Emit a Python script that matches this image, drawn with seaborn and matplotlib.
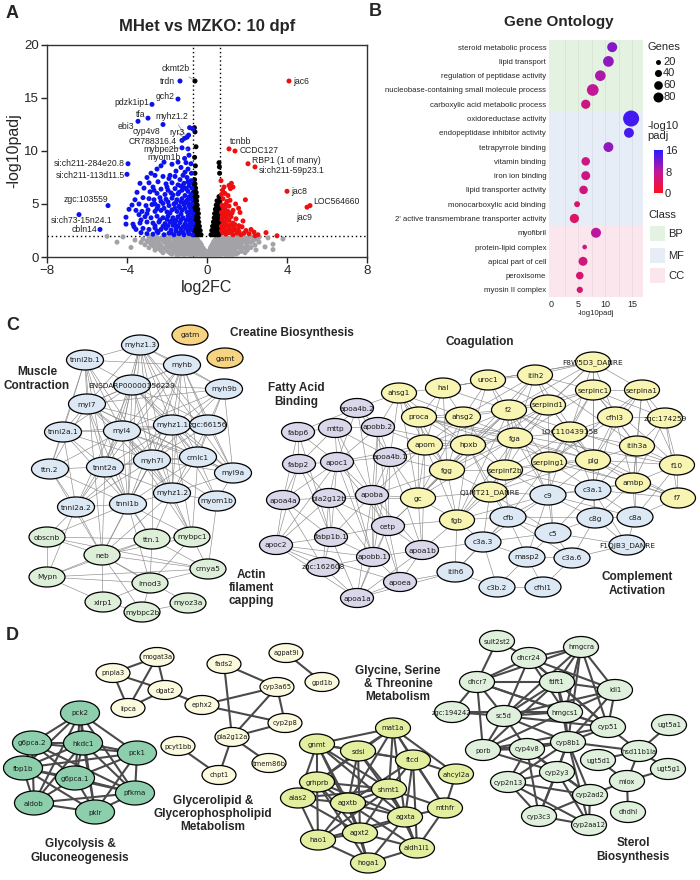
import numpy as np
import pandas as pd
import matplotlib
matplotlib.use("Agg")
import matplotlib.pyplot as plt
from matplotlib.patches import Ellipse, Rectangle
from matplotlib.collections import LineCollection
from matplotlib.colors import LinearSegmentedColormap, Normalize
from matplotlib.cm import ScalarMappable
import seaborn as sns

sns.set_theme(style="white")
plt.rcParams['font.family'] = ['Liberation Sans', 'DejaVu Sans']

# ---------------- A: volcano data (log2FC, -log10padj) ----------------
grey_pts = [
    (-5.0, 1.95), (-4.2, 1.9), (-2.9, 1.9), (-2.5, 1.85), (-2.1, 1.92), (-1.75, 1.88), (-1.45, 1.93), (-1.15, 1.86),
    (-0.9, 1.9), (-0.7, 1.94), (-0.52, 1.87), (0.48, 1.9), (0.72, 1.86), (0.95, 1.93), (1.25, 1.88), (1.55, 1.92),
    (1.85, 1.86), (2.2, 1.9), (2.6, 1.85), (3.05, 1.8),
    (-2.7, 1.78), (-2.3, 1.75), (-1.9, 1.8), (-1.6, 1.76), (-1.3, 1.79), (-1.0, 1.75), (-0.75, 1.8), (0.55, 1.77),
    (0.85, 1.79), (1.1, 1.76), (1.4, 1.8), (1.7, 1.75), (2.0, 1.78),
    (-3.6, 1.6), (-3.2, 1.68), (-2.75, 1.62), (-2.35, 1.66), (-2.0, 1.6), (-1.65, 1.67), (-1.35, 1.6), (-1.05, 1.65),
    (-0.8, 1.6), (-0.6, 1.68), (-0.45, 1.6), (0.4, 1.62), (0.6, 1.68), (0.83, 1.6), (1.1, 1.66), (1.4, 1.6),
    (1.7, 1.65), (2.05, 1.62), (2.45, 1.68), (3.8, 1.7),
    (-3.0, 1.52), (-2.6, 1.5), (-2.2, 1.54), (-1.9, 1.5), (-1.5, 1.52), (-1.2, 1.5), (-0.9, 1.53), (-0.6, 1.5),
    (0.45, 1.52), (0.7, 1.5), (0.95, 1.53), (1.25, 1.5), (1.55, 1.52), (1.9, 1.5), (2.3, 1.54),
    (-4.5, 1.4), (-3.3, 1.38), (-2.9, 1.42), (-2.5, 1.36), (-2.15, 1.43), (-1.85, 1.37), (-1.55, 1.42), (-1.25, 1.36),
    (-0.95, 1.42), (-0.7, 1.37), (-0.48, 1.43), (-0.35, 1.36), (0.32, 1.4), (0.5, 1.36), (0.72, 1.43), (0.97, 1.37),
    (1.25, 1.42), (1.55, 1.36), (1.85, 1.42), (2.2, 1.38), (2.6, 1.4),
    (-2.8, 1.27), (-2.45, 1.3), (-2.05, 1.26), (-1.75, 1.3), (-1.45, 1.26), (-1.15, 1.3), (-0.9, 1.27), (-0.6, 1.3),
    (0.42, 1.28), (0.62, 1.26), (0.88, 1.3), (1.15, 1.27), (1.4, 1.3), (1.7, 1.26), (2.0, 1.28),
    (-3.1, 1.15), (-2.7, 1.1), (-2.35, 1.17), (-2.0, 1.12), (-1.7, 1.18), (-1.4, 1.1), (-1.1, 1.16), (-0.85, 1.1),
    (-0.6, 1.17), (-0.42, 1.12), (-0.28, 1.15), (0.25, 1.13), (0.4, 1.18), (0.6, 1.1), (0.85, 1.16), (1.1, 1.12),
    (1.4, 1.18), (1.7, 1.1), (2.0, 1.15), (2.4, 1.12), (2.9, 0.95), (3.3, 1.2),
    (-2.65, 1.0), (-2.3, 1.02), (-1.95, 0.98), (-1.65, 1.02), (-1.35, 0.98), (-1.05, 1.02), (-0.8, 0.98),
    (-0.55, 1.0), (0.35, 1.0), (0.58, 1.02), (0.8, 0.98), (1.05, 1.02), (1.35, 0.98), (1.65, 1.02), (2.0, 1.0),
    (-3.8, 0.9), (-2.9, 0.88), (-2.5, 0.92), (-2.2, 0.86), (-1.85, 0.93), (-1.55, 0.87), (-1.25, 0.92), (-0.98, 0.86),
    (-0.72, 0.93), (-0.5, 0.87), (-0.32, 0.92), (-0.2, 0.86), (0.18, 0.9), (0.32, 0.86), (0.5, 0.93), (0.72, 0.87),
    (0.97, 0.92), (1.25, 0.86), (1.55, 0.92), (1.85, 0.88), (2.2, 0.9), (3.3, 0.7),
    (-2.4, 0.78), (-2.05, 0.76), (-1.75, 0.8), (-1.45, 0.76), (-1.15, 0.8), (-0.88, 0.77), (-0.62, 0.8),
    (-0.4, 0.76), (0.25, 0.78), (0.42, 0.8), (0.62, 0.76), (0.87, 0.8), (1.12, 0.76), (1.4, 0.8), (1.7, 0.77),
    (2.05, 0.79),
    (-2.6, 0.65), (-2.3, 0.6), (-2.0, 0.67), (-1.7, 0.62), (-1.4, 0.66), (-1.1, 0.6), (-0.85, 0.67), (-0.6, 0.61),
    (-0.38, 0.66), (-0.22, 0.6), (-0.12, 0.64), (0.12, 0.62), (0.24, 0.66), (0.4, 0.6), (0.62, 0.66), (0.85, 0.61),
    (1.1, 0.67), (1.4, 0.6), (1.7, 0.65), (2.0, 0.62), (2.45, 0.66),
    (-1.95, 0.52), (-1.6, 0.54), (-1.3, 0.5), (-1.0, 0.53), (-0.75, 0.5), (-0.5, 0.54), (-0.28, 0.5), (0.2, 0.52),
    (0.38, 0.5), (0.6, 0.54), (0.85, 0.5), (1.1, 0.53), (1.4, 0.5), (1.7, 0.53),
    (-2.2, 0.4), (-1.85, 0.37), (-1.55, 0.42), (-1.25, 0.36), (-0.98, 0.41), (-0.72, 0.37), (-0.5, 0.42), (-0.3, 0.37),
    (-0.12, 0.4), (0.1, 0.38), (0.28, 0.42), (0.48, 0.36), (0.72, 0.41), (0.98, 0.37), (1.25, 0.42), (1.55, 0.38),
    (1.9, 0.4),
    (-1.75, 0.27), (-1.35, 0.25), (-1.05, 0.28), (-0.75, 0.25), (-0.45, 0.28), (-0.2, 0.24), (0.15, 0.26),
    (0.32, 0.28), (0.55, 0.25), (0.8, 0.28), (1.1, 0.25), (1.45, 0.27),
    (-1.5, 0.15), (-1.15, 0.18), (-0.85, 0.12), (-0.55, 0.17), (-0.3, 0.12), (-0.1, 0.08), (0.05, 0.05), (0.2, 0.1),
    (0.4, 0.16), (0.65, 0.12), (0.95, 0.18), (1.25, 0.14),
]

black_pts = [
    (-0.68, 2.1), (-0.6, 2.1), (-0.52, 2.1), (-0.44, 2.1), (-0.36, 2.1), (-0.3, 2.1),
    (-0.66, 2.5), (-0.58, 2.5), (-0.5, 2.5), (-0.42, 2.5), (-0.34, 2.5),
    (-0.69, 2.9), (-0.61, 2.9), (-0.53, 2.9), (-0.45, 2.9), (-0.38, 2.9),
    (-0.65, 3.3), (-0.57, 3.3), (-0.49, 3.3), (-0.41, 3.3),
    (-0.68, 3.7), (-0.6, 3.7), (-0.52, 3.7), (-0.44, 3.7),
    (-0.66, 4.1), (-0.58, 4.1), (-0.5, 4.1), (-0.43, 4.1),
    (-0.69, 4.5), (-0.61, 4.5), (-0.53, 4.5), (-0.46, 4.5),
    (-0.65, 4.9), (-0.57, 4.9), (-0.49, 4.9),
    (-0.68, 5.3), (-0.6, 5.3), (-0.52, 5.3),
    (-0.66, 5.7), (-0.58, 5.7), (-0.5, 5.7),
    (-0.68, 6.1), (-0.6, 6.1), (-0.54, 6.1),
    (-0.65, 6.5), (-0.57, 6.5), (-0.67, 6.9), (-0.6, 6.9), (-0.62, 7.3),
    (-0.6, 7.9), (-0.58, 8.6), (-0.62, 9.4), (-0.55, 10.4), (-0.6, 11.8), (-0.63, 12.2),
    (0.2, 2.1), (0.28, 2.1), (0.36, 2.1), (0.44, 2.1), (0.52, 2.1), (0.6, 2.1),
    (0.24, 2.5), (0.32, 2.5), (0.4, 2.5), (0.48, 2.5), (0.56, 2.5), (0.64, 2.5),
    (0.28, 2.9), (0.36, 2.9), (0.44, 2.9), (0.52, 2.9), (0.6, 2.9),
    (0.32, 3.3), (0.4, 3.3), (0.48, 3.3), (0.56, 3.3), (0.64, 3.3),
    (0.36, 3.7), (0.44, 3.7), (0.52, 3.7), (0.6, 3.7),
    (0.38, 4.1), (0.46, 4.1), (0.54, 4.1), (0.62, 4.1),
    (0.42, 4.5), (0.5, 4.5), (0.58, 4.5), (0.65, 4.5),
    (0.46, 4.9), (0.54, 4.9), (0.62, 4.9), (0.5, 5.3), (0.58, 5.3), (0.65, 5.3),
    (0.6, 5.7), (0.63, 7.9), (0.62, 8.5), (0.6, 8.9),
]

blue_pts = [
    (-0.87, 12.2), (-0.72, 12.1), (-0.92, 11.5), (-1.12, 9.3), (-1.45, 8.95), (-0.9, 9.6), (-0.8, 8.8), (-1.05, 8.9),
    (-2.15, 8.95), (-2.3, 8.6), (-1.75, 8.75), (-1.3, 8.45), (-0.95, 8.3), (-2.5, 8.3), (-1.55, 8.1), (-2.8, 7.9),
    (-1.1, 8.0), (-0.78, 7.9),
    (-3.35, 6.95), (-3.0, 7.5), (-2.6, 7.7), (-2.2, 7.6), (-1.9, 7.4), (-1.6, 7.6), (-1.35, 7.3), (-1.0, 7.5),
    (-0.8, 7.2), (-2.9, 7.0), (-2.45, 7.1), (-2.05, 6.9), (-1.75, 7.0), (-1.45, 6.8), (-1.15, 6.95), (-0.9, 6.7),
    (-3.15, 6.5), (-2.7, 6.6), (-2.3, 6.4), (-1.95, 6.3), (-1.6, 6.45), (-1.25, 6.3), (-0.95, 6.2), (-0.75, 6.5),
    (-3.5, 6.1), (-2.85, 6.15), (-2.5, 6.0), (-2.1, 5.9), (-1.8, 6.05), (-1.45, 5.95), (-1.1, 5.8), (-0.8, 5.9),
    (-3.6, 5.4), (-3.2, 5.6), (-2.9, 5.5), (-2.65, 5.4), (-2.35, 5.6), (-2.05, 5.45), (-1.75, 5.55), (-1.5, 5.4),
    (-1.25, 5.5), (-1.0, 5.35), (-0.8, 5.45),
    (-3.75, 4.9), (-3.4, 5.0), (-3.05, 4.85), (-2.75, 4.95), (-2.45, 4.8), (-2.2, 5.05), (-1.9, 4.85), (-1.65, 5.0),
    (-1.4, 4.8), (-1.15, 4.95), (-0.9, 4.85), (-0.75, 5.0),
    (-3.55, 4.4), (-3.25, 4.3), (-2.95, 4.45), (-2.6, 4.3), (-2.3, 4.4), (-2.0, 4.25), (-1.75, 4.45), (-1.5, 4.3),
    (-1.25, 4.4), (-1.0, 4.25), (-0.8, 4.4),
    (-4.05, 3.75), (-3.4, 4.0), (-3.1, 3.8), (-2.8, 3.7), (-2.5, 3.85), (-2.2, 3.7), (-1.95, 3.85), (-1.7, 3.7),
    (-1.45, 3.8), (-1.2, 3.7), (-0.95, 3.85), (-0.75, 3.7),
    (-4.05, 3.1), (-3.7, 3.1), (-3.35, 3.2), (-3.0, 3.3), (-2.7, 3.2), (-2.4, 3.3), (-2.1, 3.15), (-1.85, 3.3),
    (-1.6, 3.15), (-1.35, 3.25), (-1.1, 3.1), (-0.85, 3.25),
    (-3.55, 2.6), (-3.2, 2.7), (-2.9, 2.6), (-2.6, 2.75), (-2.3, 2.6), (-2.05, 2.7), (-1.8, 2.55), (-1.55, 2.7),
    (-1.3, 2.6), (-1.05, 2.7), (-0.8, 2.6),
    (-3.0, 2.2), (-2.7, 2.15), (-2.45, 2.3), (-2.15, 2.1), (-1.9, 2.25), (-1.65, 2.1), (-1.4, 2.2), (-1.15, 2.1),
    (-0.9, 2.2), (-0.72, 2.1),
    (-1.6, 4.6), (-1.35, 4.65), (-1.1, 4.6), (-0.85, 4.65), (-1.55, 3.45), (-1.3, 3.5), (-1.05, 3.45), (-0.8, 3.5),
    (-1.45, 2.9), (-1.2, 2.85), (-0.95, 2.95), (-0.75, 2.85), (-1.2, 2.35), (-0.95, 2.4), (-1.1, 5.15), (-0.9, 5.65),
    (-1.4, 6.1), (-1.15, 6.55), (-0.85, 7.0), (-1.3, 5.2), (-0.7, 3.2), (-0.72, 4.1),
    (-2.6, 5.0), (-2.3, 5.25), (-1.95, 5.2), (-1.55, 5.15), (-0.95, 5.1), (-2.5, 4.55), (-2.15, 4.6), (-1.85, 4.15),
    (-1.3, 4.05), (-0.9, 4.05), (-2.35, 3.5), (-2.0, 3.55), (-1.75, 3.45), (-0.9, 3.55), (-2.6, 2.95), (-2.2, 2.9),
    (-1.95, 2.95), (-1.7, 3.0), (-2.5, 2.45), (-1.8, 2.3), (-1.55, 2.45), (-1.35, 2.3), (-0.85, 2.75), (-1.7, 5.85),
    (-2.0, 6.6), (-1.3, 6.7), (-1.05, 6.45), (-2.65, 6.3), (-1.85, 7.7), (-1.2, 7.7), (-0.95, 7.1), (-3.0, 4.1),
    (-3.3, 3.5), (-3.65, 2.85), (-3.9, 4.5), (-3.3, 2.3),
]

red_pts = [
    (0.7, 7.2), (0.78, 6.3), (1.1, 6.75), (1.22, 6.95), (1.17, 6.45), (1.3, 6.6), (0.9, 6.0), (1.05, 5.8),
    (1.92, 5.4), (1.43, 5.0), (1.58, 4.6), (1.0, 5.25), (0.8, 5.5), (0.75, 4.9), (0.9, 4.6), (1.1, 4.8),
    (1.3, 4.4), (1.65, 4.2), (0.72, 4.2), (0.85, 3.9), (1.0, 4.0), (1.2, 3.8), (1.45, 3.6), (1.8, 3.4),
    (0.75, 3.5), (0.9, 3.3), (1.1, 3.45), (1.3, 3.2), (0.72, 2.9), (0.85, 2.7), (1.0, 2.95), (1.15, 2.6),
    (1.35, 2.8), (1.55, 2.6), (1.95, 2.5), (0.78, 2.3), (0.95, 2.15), (1.12, 2.3), (1.3, 2.1), (1.5, 2.25),
    (1.7, 2.1), (2.1, 2.2), (2.35, 2.35), (2.55, 2.1), (2.95, 2.3), (3.5, 2.0), (2.2, 2.6), (1.75, 2.85),
    (0.8, 3.1), (0.95, 3.7), (1.2, 3.05), (0.73, 2.5), (0.88, 2.45), (1.05, 2.5), (1.25, 2.45), (1.6, 2.4),
    (2.4, 2.0), (1.4, 2.55), (0.82, 4.35), (1.05, 4.3), (0.98, 3.05), (1.85, 2.25), (1.15, 5.35),
    (0.76, 3.8), (0.92, 4.2), (1.08, 3.95), (0.8, 4.7), (0.95, 5.0), (1.25, 4.15), (1.4, 3.05), (1.6, 2.95),
    (1.1, 2.75), (0.72, 5.9), (0.85, 6.6),
]

lab_genes = ["ckmt2b", "trdn", "gch2", "pdzk1ip1", "tfa", "myhz1.2", "ebi3", "cyp4v8", "ryr3", "CR788316.4",
             "mybpc2b", "myom1b", "si:ch211-284e20.8", "si:ch211-113d11.5", "zgc:103559", "si:ch73-15n24.1",
             "cbln14", "jac6", "tcnbb", "CCDC127", "RBP1 (1 of many)", "si:ch211-59p23.1", "jac8",
             "LOC564660", "jac9"]
lab_fc = [-0.6, -1.35, -1.45, -2.75, -2.95, -1.0, -3.45, -2.2, -1.12, -1.25, -1.25, -0.95, -3.95, -4.0, -4.95,
          -6.4, -5.35, 4.1, 1.1, 1.4, 2.05, 2.4, 4.0, 5.15, 5.0]
lab_p = [16.6, 16.6, 14.9, 14.4, 13.1, 11.3, 12.8, 12.5, 11.2, 11.0, 10.3, 10.2, 8.8, 7.8, 4.85, 4.0, 2.6,
         16.6, 10.2, 10.0, 8.8, 8.5, 6.2, 4.85, 4.7]
lab_grp = ["ns_fc"] + ["down"] * 16 + ["up"] * 8

# ---------------- B: gene ontology ----------------
go_terms = ["steroid metabolic process", "lipid transport", "regulation of peptidase activity",
            "nucleobase-containing small molecule process", "carboxylic acid metabolic process",
            "oxidoreductase activity", "endopeptidase inhibitor activity", "tetrapyrrole binding",
            "vitamin binding", "iron ion binding", "lipid transporter activity", "monocarboxylic acid binding",
            "2' active transmembrane transporter activity", "myofibril", "protein-lipid complex",
            "apical part of cell", "peroxisome", "myosin II complex"]
go_class = ["BP"] * 5 + ["MF"] * 8 + ["CC"] * 5
go_logp = [11.3, 10.6, 9.1, 7.7, 6.4, 14.8, 14.4, 10.6, 6.4, 6.4, 6.0, 4.8, 4.3, 8.3, 6.2, 5.9, 5.3, 5.3]
go_genes = [80, 92, 90, 110, 68, 205, 78, 78, 58, 64, 58, 28, 68, 80, 17, 64, 46, 31]

# ---------------- C: networks ----------------
muscle_genes = ["tnni2b.1", "myhz1.3", "myhb", "ENSDARP00000156229", "myh9b", "myl7", "tnni2a.1", "myl4",
                "myhz1.1", "zgc:66156", "cmlc1", "myh7l", "tnnt2a", "ttn.2", "myl9a", "myhz1.2", "myom1b",
                "tnni2a.2", "tnni1b"]
creatine_genes = ["gatm", "gamt"]
actin_genes = ["obscnb", "ttn.1", "mybpc1", "neb", "cmya5", "Mypn", "lmod3", "xirp1", "mybpc2b", "myoz3a"]
fatty_genes = ["apoa4b.2", "fabp6", "mttp", "apobb.2", "fabp2", "apoc1", "apoa4b.1", "apoba", "apoa4a",
               "pla2g12b", "cetp", "fabp1b.1", "apoc2", "apobb.1", "apoa1b", "zgc:162608", "apoea", "apoa1a"]
coag_genes = ["F8W5D3_DANRE", "itih2", "uroc1", "hal", "ahsg1", "serpinc1", "serpina1", "serpind1", "f2",
              "ahsg2", "proca", "cfhl3", "zgc:174259", "LOC110439158", "fga", "hpxb", "apom", "itih3a",
              "serping1", "plg", "f10", "fgg", "serpinf2b", "ambp", "Q1MT21_DANRE", "gc", "f7", "fgb"]
compl_genes = ["c9", "c3a.1", "cfb", "c8g", "c8a", "c5", "c3a.3", "F1QJB3_DANRE", "masp2", "c3a.6", "itih6",
               "c3b.2", "cfhl1"]

# node layout (pixel grid of the figure)
muscle_xy = [(85, 360), (140, 345), (182, 365), (132, 385), (224, 389), (87, 404), (63, 432), (122, 431),
             (172, 425), (208, 425), (198, 457), (152, 460), (105, 467), (50, 469), (233, 473), (172, 493),
             (217, 501), (76, 507), (128, 504)]
creatine_xy = [(190, 335), (225, 358)]
actin_xy = [(47, 537), (152, 539), (192, 537), (102, 555), (208, 569), (47, 577), (150, 583), (103, 602),
            (142, 612), (188, 603)]
fatty_xy = [(357, 408), (298, 432), (335, 428), (378, 427), (299, 464), (337, 462), (390, 457), (372, 495),
            (283, 500), (329, 498), (388, 526), (331, 537), (276, 545), (373, 557), (422, 550), (323, 567),
            (400, 582), (357, 598)]
coag_xy = [(593, 362), (535, 375), (488, 380), (443, 388), (399, 393), (593, 390), (642, 390), (548, 405),
           (509, 410), (463, 417), (419, 417), (615, 417), (665, 418), (570, 432), (515, 438), (468, 445),
           (425, 445), (637, 446), (549, 462), (593, 460), (677, 465), (447, 470), (505, 470), (633, 483),
           (490, 492), (418, 498), (678, 498), (457, 520)]
compl_xy = [(548, 495), (593, 490), (508, 517), (595, 518), (635, 517), (553, 533), (483, 542), (627, 545),
            (527, 557), (572, 558), (455, 572), (497, 587), (543, 587)]

c_edges = """
tnni2b.1 | myhz1.3 myhb ENSDARP00000156229 myl7 myl4 tnnt2a tnni2a.1 myh7l tnni1b ttn.2 neb
myhz1.3 | myhb ENSDARP00000156229 myl7 myl4 myhz1.1 myh7l tnnt2a cmlc1 myh9b myhz1.2 tnni1b zgc:66156 myl9a
myhb | ENSDARP00000156229 myh9b myl7 myl4 myhz1.1 myh7l cmlc1 zgc:66156 myhz1.2 tnnt2a tnni1b myl9a
ENSDARP00000156229 | myh9b myl7 myl4 myhz1.1 myh7l cmlc1 tnnt2a tnni1b myhz1.2 zgc:66156 tnni2a.1 myl9a tnni2a.2
myh9b | myhz1.1 zgc:66156 myh7l myl4 cmlc1 myl9a myl7
myl7 | myl4 tnni2a.1 myhz1.1 myh7l tnnt2a cmlc1 tnni1b myhz1.2 ttn.2 myl9a
tnni2a.1 | myl4 tnnt2a ttn.2 tnni1b tnni2a.2 myh7l myhz1.1
myl4 | myhz1.1 myh7l tnnt2a cmlc1 tnni1b myhz1.2 ttn.2 tnni2a.2 zgc:66156 myl9a mybpc1
myhz1.1 | zgc:66156 cmlc1 myh7l tnnt2a myhz1.2 tnni1b myl9a myom1b mybpc1 tnni2a.2
zgc:66156 | cmlc1 myl9a myh7l myhz1.2
myh7l | cmlc1 tnnt2a myhz1.2 tnni1b myl9a myom1b mybpc1 ttn.1 neb tnni2a.2
cmlc1 | myl9a tnnt2a myhz1.2 tnni1b myom1b mybpc1
tnnt2a | ttn.2 myhz1.2 tnni1b tnni2a.2 neb ttn.1
ttn.2 | tnni2a.2 tnni1b neb
myl9a | myhz1.2 myom1b
myhz1.2 | tnni1b mybpc1 ttn.1 myom1b neb
tnni2a.2 | tnni1b neb obscnb Mypn
tnni1b | neb ttn.1 mybpc1 obscnb lmod3
myom1b | cmya5
obscnb | neb ttn.1 Mypn cmya5
ttn.1 | neb mybpc1 lmod3 cmya5 Mypn
mybpc1 | neb cmya5 lmod3
neb | Mypn lmod3 cmya5 xirp1 mybpc2b myoz3a
cmya5 | lmod3 Mypn
Mypn | lmod3 xirp1
lmod3 | xirp1 mybpc2b
mybpc2b | myoz3a xirp1
F8W5D3_DANRE | itih2 serpinc1 serpina1 serpind1 f2 cfhl3 LOC110439158 fga plg hal uroc1
itih2 | uroc1 serpind1 f2 fga serpinc1 hpxb ahsg2 plg itih3a
uroc1 | hal f2 ahsg2 fga serpind1 hpxb
hal | ahsg1 proca ahsg2 f2 uroc1 apom fgg
ahsg1 | proca ahsg2 apom hpxb fgg apoa4b.2 apobb.2 gc apoa4b.1
serpinc1 | serpina1 serpind1 f2 cfhl3 LOC110439158 fga plg serping1 f10 itih3a zgc:174259
serpina1 | cfhl3 zgc:174259 itih3a plg f10 serping1 ambp
serpind1 | f2 fga LOC110439158 serping1 plg hpxb serpinf2b fgg
f2 | ahsg2 fga hpxb proca serping1 plg fgg fgb serpinf2b f10 f7 apom c9 gc
ahsg2 | proca hpxb fga apom fgg serpinf2b gc
proca | apom hpxb fgg gc fga f10 plg f7
cfhl3 | zgc:174259 itih3a plg LOC110439158 serping1 ambp c3a.1
zgc:174259 | itih3a f10 ambp f7
LOC110439158 | fga serping1 plg itih3a serpinf2b c9 c3a.1
fga | hpxb serping1 fgg serpinf2b fgb Q1MT21_DANRE plg apom gc c9
hpxb | apom fgg serpinf2b gc Q1MT21_DANRE fgb cfb apoa4b.1 apobb.2
apom | fgg gc apoa4b.1 apobb.2 apoba apoc1 fgb apoa1b
itih3a | plg f10 ambp c3a.1 c8a
serping1 | plg serpinf2b Q1MT21_DANRE c9 c3a.1 cfb ambp c5
plg | f10 ambp c3a.1 c9 serpinf2b f7 Q1MT21_DANRE c8g
f10 | ambp f7 c8a
fgg | serpinf2b gc Q1MT21_DANRE fgb apoa4b.1 apoba cetp
serpinf2b | Q1MT21_DANRE c9 fgb cfb c3a.1
ambp | f7 c3a.1 c8a c8g c9
Q1MT21_DANRE | gc fgb c9 cfb c3a.3 c5
gc | fgb apoba cetp apoa4b.1 pla2g12b apoa1b
f7 | c8a c3a.1
fgb | cfb c3a.3 cetp apoa1b c9 itih6
c9 | c3a.1 cfb c8g c5 c8a c3a.3 masp2
c3a.1 | c8g c8a c5 F1QJB3_DANRE
cfb | c5 c3a.3 masp2 c8g c3a.6 itih6
c8g | c8a c5 F1QJB3_DANRE c3a.6
c8a | F1QJB3_DANRE
c5 | c3a.3 masp2 c3a.6 F1QJB3_DANRE
c3a.3 | masp2 itih6 c3b.2 apoa1b
masp2 | c3a.6 cfhl1 c3b.2
c3a.6 | cfhl1 F1QJB3_DANRE
itih6 | c3b.2 apoea apoa1a
c3b.2 | cfhl1
apoa4b.2 | mttp apobb.2 fabp6 apoc1 apoa4b.1 apoba
fabp6 | mttp fabp2 apoc1 apoa4a fabp1b.1
mttp | apobb.2 apoc1 fabp2 apoa4b.1 apoba apobb.1
apobb.2 | apoa4b.1 apoc1 apoba cetp apobb.1
fabp2 | apoc1 apoa4a pla2g12b fabp1b.1 apoc2
apoc1 | apoa4b.1 apoba pla2g12b apoa4a cetp fabp1b.1 apoc2 apobb.1
apoa4b.1 | apoba cetp apobb.1 apoa1b
apoba | cetp pla2g12b fabp1b.1 apobb.1 apoa1b apoea apoa1a
apoa4a | pla2g12b apoc2 fabp1b.1 zgc:162608
pla2g12b | fabp1b.1 cetp apoc2 zgc:162608 apobb.1
cetp | apobb.1 apoa1b fabp1b.1 apoea apoa1a
fabp1b.1 | apoc2 zgc:162608 apobb.1 apoa1a
apoc2 | zgc:162608 apoa1a apobb.1 apoea
apobb.1 | apoa1b zgc:162608 apoea apoa1a
apoa1b | apoea apoa1a
zgc:162608 | apoa1a
apoea | apoa1a
"""

# ---------------- D: networks ----------------
glycero_genes = ["mogat3a", "pnpla3", "dgat2", "lipca", "fads2", "agpat9l", "gpd1b", "cyp3a65", "ephx2",
                 "cyp2p8", "pla2g12a", "pcyt1bb", "tmem86b", "chpt1"]
glyco_genes = ["pck2", "g6pca.2", "hkdc1", "pck1", "fbp1b", "g6pca.1", "pfkma", "aldob", "pklr"]
glycine_genes = ["mat1a", "gnmt", "sdsl", "ftcd", "grhprb", "shmt1", "ahcyl2a", "alas2", "agxtb", "agxta",
                 "mthfr", "hao1", "agxt2", "aldh1l1", "hoga1"]
sterol_genes = ["sult2st2", "hmgcra", "dhcr24", "dhcr7", "fdft1", "idi1", "zgc:194242", "sc5d", "hmgcs1",
                "cyp51", "ugt5a1", "porb", "cyp4v8", "cyp8b1", "hsd11b1la", "ugt5d1", "ugt5g1", "cyp2y3",
                "cyp2n13", "miox", "cyp2ad2", "dhdhl", "cyp3c3", "cyp2aa12"]

glycero_xy = [(157, 657), (113, 673), (165, 690), (128, 708), (224, 664), (286, 653), (322, 682), (277, 687),
              (202, 705), (285, 723), (232, 737), (178, 746), (269, 763), (219, 775)]
glyco_xy = [(80, 713), (32, 743), (83, 743), (137, 753), (23, 768), (75, 778), (135, 793), (34, 803), (95, 812)]
glycine_xy = [(393, 728), (317, 744), (358, 751), (413, 760), (317, 782), (389, 789), (456, 774), (298, 798),
              (348, 803), (405, 817), (445, 808), (318, 840), (360, 833), (417, 848), (368, 863)]
sterol_xy = [(497, 641), (581, 647), (529, 658), (477, 682), (557, 682), (615, 690), (452, 712), (504, 716),
             (565, 712), (608, 727), (669, 725), (483, 750), (527, 749), (568, 742), (639, 751), (598, 760),
             (668, 769), (557, 772), (508, 782), (627, 781), (590, 795), (628, 812), (539, 816), (589, 825)]

d_edges = """
mogat3a | pnpla3 dgat2 lipca
pnpla3 | dgat2 lipca
dgat2 | lipca ephx2
ephx2 | cyp3a65 cyp2p8
fads2 | cyp3a65 pla2g12a
cyp3a65 | cyp2p8 pla2g12a
cyp2p8 | pla2g12a
pla2g12a | chpt1 tmem86b
pcyt1bb | chpt1
agpat9l | gpd1b
pck2 | g6pca.2 hkdc1 pck1 g6pca.1 fbp1b pfkma aldob pklr
g6pca.2 | hkdc1 fbp1b g6pca.1 pck1 aldob pfkma
hkdc1 | pck1 g6pca.1 fbp1b pfkma pklr aldob
pck1 | g6pca.1 pfkma pklr fbp1b
fbp1b | g6pca.1 aldob pklr pfkma
g6pca.1 | aldob pklr pfkma
pfkma | pklr aldob
aldob | pklr
mat1a | gnmt sdsl ftcd shmt1 agxtb ahcyl2a mthfr agxta grhprb
gnmt | sdsl grhprb shmt1 agxtb alas2 ftcd agxta agxt2
sdsl | ftcd shmt1 agxtb agxta grhprb agxt2
ftcd | shmt1 ahcyl2a mthfr agxta agxtb aldh1l1
grhprb | shmt1 agxtb alas2 hao1 agxt2 agxta hoga1
shmt1 | agxtb agxta mthfr agxt2 aldh1l1 alas2 hao1
ahcyl2a | mthfr
alas2 | agxtb hao1 agxt2
agxtb | agxta agxt2 hao1 hoga1 aldh1l1
agxta | mthfr agxt2 aldh1l1 hoga1 hao1
mthfr | aldh1l1
hao1 | agxt2 hoga1
agxt2 | hoga1 aldh1l1
hoga1 | aldh1l1
sult2st2 | dhcr24 dhcr7
dhcr24 | hmgcra dhcr7 fdft1 idi1 sc5d hmgcs1 cyp51
hmgcra | fdft1 idi1 hmgcs1 dhcr7 sc5d cyp51 cyp8b1
dhcr7 | fdft1 sc5d zgc:194242 hmgcs1 cyp51 porb
fdft1 | idi1 sc5d hmgcs1 cyp51 cyp8b1 porb
idi1 | hmgcs1 cyp51 sc5d cyp8b1
zgc:194242 | sc5d hmgcs1
sc5d | hmgcs1 cyp51 porb cyp4v8 cyp8b1
hmgcs1 | cyp51 cyp8b1 porb
cyp51 | cyp8b1 porb hsd11b1la
porb | cyp4v8 cyp8b1 cyp2y3
cyp4v8 | cyp8b1 cyp2n13 cyp2y3 cyp3c3 cyp2ad2
cyp8b1 | cyp2y3 hsd11b1la cyp2n13 cyp2ad2 cyp3c3 cyp2aa12
cyp2n13 | cyp2y3 cyp3c3 cyp2aa12 cyp2ad2
cyp2y3 | cyp2ad2 cyp3c3 cyp2aa12
cyp2ad2 | cyp2aa12 cyp3c3
cyp3c3 | cyp2aa12
hsd11b1la | ugt5a1 ugt5d1 ugt5g1 miox
ugt5d1 | miox
miox | ugt5g1 dhdhl cyp2ad2
"""


def parse_edges(text):
    pairs = []
    for line in text.strip().splitlines():
        src, dst = line.split(" | ")
        for d in dst.split():
            pairs.append((src.strip(), d))
    return pairs


def draw_edges(ax, pos, pairs, color, lw):
    segs = [[pos[a], pos[b]] for a, b in pairs]
    ax.add_collection(LineCollection(segs, colors=color, linewidths=lw, zorder=1))


def draw_nodes(ax, genes, xy, face, w, h, fs):
    for g, (x, y) in zip(genes, xy):
        ax.add_patch(Ellipse((x, y), w, h, facecolor=face, edgecolor="black", lw=0.9, zorder=3))
        ax.text(x, y + 0.5, g, ha="center", va="center", fontsize=fs, family=["DejaVu Sans"],
                color="#1a1a1a", zorder=4)


fig = plt.figure(figsize=(7, 8.8), dpi=100)

# full-figure axes in pixel units for the networks and labels
net = fig.add_axes([0, 0, 1, 1])
net.set_xlim(0, 700)
net.set_ylim(880, 0)
net.axis("off")

c_pos = {}
for genes, xy in [(muscle_genes, muscle_xy), (creatine_genes, creatine_xy), (actin_genes, actin_xy),
                  (fatty_genes, fatty_xy), (coag_genes, coag_xy), (compl_genes, compl_xy)]:
    c_pos.update(dict(zip(genes, xy)))
d_pos = {}
for genes, xy in [(glycero_genes, glycero_xy), (glyco_genes, glyco_xy), (glycine_genes, glycine_xy),
                  (sterol_genes, sterol_xy)]:
    d_pos.update(dict(zip(genes, xy)))

draw_edges(net, c_pos, parse_edges(c_edges), "#8c8c8c", 0.45)
draw_edges(net, d_pos, parse_edges(d_edges), "#4a4a4a", 1.5)

draw_nodes(net, muscle_genes, muscle_xy, "#dce8f4", 37, 20, 5.3)
draw_nodes(net, creatine_genes, creatine_xy, "#f6d482", 36, 20, 5.3)
draw_nodes(net, actin_genes, actin_xy, "#ddefd8", 36, 20, 5.3)
draw_nodes(net, fatty_genes, fatty_xy, "#dad7ea", 33, 19, 5.3)
draw_nodes(net, coag_genes, coag_xy, "#f8f5b2", 35, 20, 5.3)
draw_nodes(net, compl_genes, compl_xy, "#dce8f4", 36, 20, 5.3)
draw_nodes(net, glycero_genes, glycero_xy, "#fbfade", 34, 19, 4.9)
draw_nodes(net, glyco_genes, glyco_xy, "#8dcfad", 39, 24, 5.1)
draw_nodes(net, glycine_genes, glycine_xy, "#e3ef9e", 35, 20, 5.0)
draw_nodes(net, sterol_genes, sterol_xy, "#dff0dc", 35, 21, 4.9)

bold = dict(fontsize=8.5, fontweight="bold", ha="center", va="center", linespacing=1.15)
net.text(37, 379, "Muscle\nContraction", **bold)
net.text(292, 333, "Creatine Biosynthesis", **bold)
net.text(251, 588, "Actin\nfilament\ncapping", **bold)
net.text(296, 395, "Fatty Acid\nBinding", **bold)
net.text(480, 342, "Coagulation", **bold)
net.text(637, 584, "Complement\nActivation", **bold)
net.text(80, 851, "Glycolysis &\nGluconeogenesis", **bold)
net.text(213, 814, "Glycerolipid &\nGlycerophospholipid\nMetabolism", **bold)
net.text(398, 684, "Glycine, Serine\n& Threonine\nMetabolism", **bold)
net.text(633, 850, "Sterol\nBiosynthesis", **bold)

for lab, x, y in [("A", 12, 13), ("B", 375, 11), ("C", 13, 325), ("D", 12, 635)]:
    net.text(x, y, lab, fontsize=13, fontweight="bold", ha="center", va="center")

# ---------------- panel A ----------------
frames = []
for grp, pts in [("ns", grey_pts), ("ns_fc", black_pts), ("down", blue_pts), ("up", red_pts)]:
    frames.append(pd.DataFrame(pts, columns=["log2FC", "padj"]).assign(group=grp))
frames.append(pd.DataFrame({"log2FC": lab_fc, "padj": lab_p, "group": lab_grp}))
vdf = pd.concat(frames, ignore_index=True)

axA = fig.add_axes([47 / 700, 1 - 257 / 880, 320 / 700, 212 / 880])
sns.scatterplot(data=vdf, x="log2FC", y="padj", hue="group",
                palette={"ns": "#a3a3a7", "ns_fc": "black", "down": "#0b12ee", "up": "#ee1010"},
                s=13, linewidth=0, legend=False, ax=axA, zorder=3)
axA.set_xlim(-8, 8)
axA.set_ylim(0, 20)
axA.set_xticks([-8, -4, 0, 4, 8])
axA.set_yticks([0, 5, 10, 15, 20])
axA.tick_params(labelsize=9.5, length=4, width=1, direction="out", left=True, bottom=True, pad=2)
for side in ["left", "bottom", "top", "right"]:
    axA.spines[side].set_color("#333333")
    axA.spines[side].set_linewidth(1.0)
axA.axvline(-0.7, color="black", ls=(0, (1, 2)), lw=1, zorder=2)
axA.axvline(0.65, color="black", ls=(0, (1, 2)), lw=1, zorder=2)
axA.axhline(2.0, color="black", ls=(0, (1, 2)), lw=1, zorder=2)
axA.set_xlabel("log2FC", fontsize=11.5, labelpad=2)
axA.set_ylabel("-log10padj", fontsize=11.5, labelpad=2)
axA.set_title("MHet vs MZKO: 10 dpf", fontsize=12, fontweight="bold", pad=10)

# label placement: text x, text y, alignment, leader line
lab_text = [(-0.85, 17.8, "right", True), (-1.6, 16.6, "right", False), (-1.62, 15.15, "right", False),
            (-2.9, 14.6, "right", False), (-3.1, 13.4, "right", False), (-1.75, 13.3, "center", True),
            (-3.65, 12.3, "right", False), (-3.05, 11.85, "center", False), (-1.5, 11.75, "center", True),
            (-1.5, 10.9, "right", True), (-1.4, 10.1, "right", True), (-2.13, 9.35, "center", True),
            (-4.1, 8.8, "right", False), (-4.12, 7.65, "right", False), (-4.95, 5.45, "right", False),
            (-6.25, 3.45, "center", False), (-5.5, 2.55, "right", False), (4.3, 16.6, "left", False),
            (1.7, 10.85, "center", False), (1.63, 10.0, "left", False), (2.25, 9.1, "left", False),
            (2.6, 8.15, "left", False), (4.2, 6.2, "left", False), (5.3, 5.2, "left", False),
            (4.87, 3.75, "center", False)]
for g, fc, p, (tx, ty, ha, lead) in zip(lab_genes, lab_fc, lab_p, lab_text):
    if lead:
        axA.annotate(g, xy=(fc, p), xytext=(tx, ty), ha=ha, va="center", fontsize=6.2, color="#222222",
                     arrowprops=dict(arrowstyle="-", color="#888888", lw=0.5, shrinkA=1, shrinkB=2), zorder=4)
    else:
        axA.text(tx, ty, g, ha=ha, va="center", fontsize=6.2, color="#222222", zorder=4)

# ---------------- panel B ----------------
go_cmap = LinearSegmentedColormap.from_list("go", ["#ff1020", "#c0189c", "#2a1aff"])
go_df = pd.DataFrame({"term": go_terms, "cls": go_class, "logp": go_logp, "genes": go_genes})
go_df["row"] = np.arange(len(go_df))

axB = fig.add_axes([549 / 700, 1 - 297 / 880, 94 / 700, 257 / 880])
band = {"BP": "#e4f3e1", "MF": "#e6edf7", "CC": "#fbe6ed"}
for cls in ["BP", "MF", "CC"]:
    rows = go_df.loc[go_df["cls"] == cls, "row"]
    axB.axhspan(rows.min() - 0.5, rows.max() + 0.5, color=band[cls], lw=0, zorder=0)
for v in [2.5, 5, 7.5, 10, 12.5, 15]:
    axB.axvline(v, color="#b8b8b8", lw=0.4, alpha=0.4, zorder=1)
sns.scatterplot(data=go_df, x="logp", y="row", hue="logp", palette=go_cmap, hue_norm=(0, 16),
                size="genes", sizes=(0, 133), size_norm=(0, 205), linewidth=0, legend=False, ax=axB, zorder=3)
axB.set_xlim(-0.4, 17)
axB.set_ylim(17.5, -0.5)
axB.set_yticks(go_df["row"])
axB.set_yticklabels(go_terms)
axB.set_xticks([0, 5, 10, 15])
axB.tick_params(axis="y", labelsize=5.6, length=0, pad=2)
axB.tick_params(axis="x", labelsize=6.5, length=0, pad=2)
axB.set_xlabel("-log10padj", fontsize=5.6, labelpad=1)
axB.set_ylabel("")
for s in axB.spines.values():
    s.set_visible(False)
axB.set_title("Gene Ontology", fontsize=11, fontweight="bold", x=0.1, pad=10)

# legends for panel B
net.text(648, 47, "Genes", fontsize=8, va="center", ha="left")
for g, yy in zip([20, 40, 60, 80], [62, 73, 85, 97]):
    net.scatter(658, yy, s=g * 133 / 205, color="black", lw=0, zorder=5)
    net.text(663, yy, str(g), fontsize=8, va="center", ha="left")
net.text(647, 131, "-log10\npadj", fontsize=8, va="center", ha="left", linespacing=1.1)
cax = fig.add_axes([654 / 700, 1 - 193 / 880, 9 / 700, 43 / 880])
cb = fig.colorbar(ScalarMappable(norm=Normalize(0, 16), cmap=go_cmap), cax=cax, ticks=[0, 8, 16])
cb.outline.set_visible(False)
cax.tick_params(labelsize=8, length=0, pad=1.5)
net.text(648, 215, "Class", fontsize=8, va="center", ha="left")
for cls, yy in zip(["BP", "MF", "CC"], [234, 256, 276]):
    net.add_patch(Rectangle((650, yy - 7.5), 15, 15, facecolor=band[cls], edgecolor="none", zorder=5))
    net.text(668, yy, cls, fontsize=8, va="center", ha="left")

fig.savefig("out.png", dpi=100)
